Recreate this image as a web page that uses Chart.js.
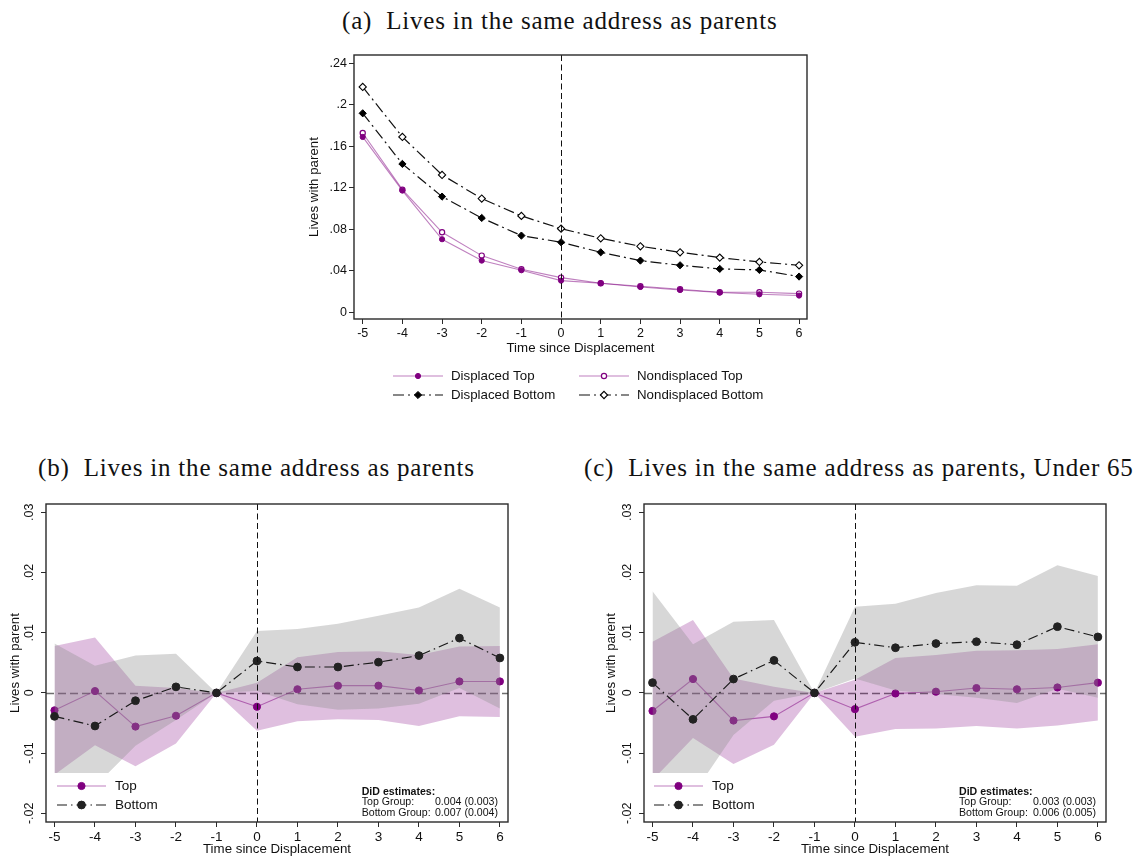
<!DOCTYPE html>
<html>
<head>
<meta charset="utf-8">
<script src="https://cdn.jsdelivr.net/npm/chart.js@4.4.1/dist/chart.umd.min.js"></script>
<style>
    body { margin: 0; background: #fff; width: 1133px; height: 859px; position: relative; overflow: hidden; }
    .ttl { position: absolute; font-family: "Liberation Serif", "Times New Roman", serif; font-size: 25px; line-height: 25px; color: #111; white-space: nowrap; letter-spacing: 0.8px; }
    canvas { position: absolute; }
</style>
</head>
<body>
<div class="ttl" style="left:342px;top:8px">(a)&nbsp; Lives in the same address as parents</div>
<div class="ttl" style="left:38px;top:455px">(b)&nbsp; Lives in the same address as parents</div>
<div class="ttl" style="left:584px;top:455px">(c)&nbsp; Lives in the same address as parents, Under 65</div>

<canvas id="chartA" width="580" height="370" style="left:280px;top:45px"></canvas>
<canvas id="chartB" width="560" height="370" style="left:0px;top:490px"></canvas>
<canvas id="chartC" width="563" height="370" style="left:570px;top:490px"></canvas>

<script>
const years = [-5, -4, -3, -2, -1, 0, 1, 2, 3, 4, 5, 6];

// (a) levels
const dispTop = [0.169, 0.1173, 0.0704, 0.0498, 0.0405, 0.0305, 0.028, 0.0244, 0.0215, 0.019, 0.0173, 0.0161];
const nondispTop = [0.1728, 0.1182, 0.0771, 0.0546, 0.0414, 0.0334, 0.028, 0.0251, 0.0222, 0.0193, 0.0193, 0.018];
const dispBottom = [0.1918, 0.143, 0.1115, 0.0909, 0.0739, 0.0675, 0.0578, 0.0498, 0.0453, 0.0418, 0.0408, 0.0344];
const nondispBottom = [0.2172, 0.169, 0.1324, 0.1096, 0.0929, 0.0806, 0.0713, 0.0636, 0.0578, 0.0527, 0.0485, 0.0453];
const yTicksA = [0, 0.04, 0.08, 0.12, 0.16, 0.2, 0.24];
const yLabelsA = ['0', '.04', '.08', '.12', '.16', '.2', '.24'];

// (b) event study, all ages
const topB = [-0.0029, 0.0003, -0.0056, -0.0038, 0, -0.0023, 0.0006, 0.0012, 0.0012, 0.0004, 0.0019, 0.0019];
const topHiB = [0.0078, 0.0092, 0.0012, 0.0008, 0, 0.0017, 0.0059, 0.0068, 0.0069, 0.0063, 0.0077, 0.0078];
const topLoB = [-0.0136, -0.0087, -0.0122, -0.0084, 0, -0.0063, -0.0047, -0.0044, -0.0045, -0.0055, -0.0039, -0.004];
const botB = [-0.0039, -0.0055, -0.0013, 0.001, 0, 0.0053, 0.0043, 0.0043, 0.0051, 0.0062, 0.0091, 0.0058];
const botHiB = [0.0082, 0.0045, 0.0062, 0.0065, 0, 0.0103, 0.0106, 0.0115, 0.0128, 0.0142, 0.0173, 0.0142];
const botLoB = [-0.016, -0.0155, -0.0088, -0.0045, 0, 0.0003, -0.0019, -0.0028, -0.0026, -0.0018, 0.0008, -0.0026];
const didB = ['0.004 (0.003)', '0.007 (0.004)'];

// (c) event study, under 65
const topC = [-0.003, 0.0023, -0.0046, -0.0039, 0, -0.0027, -0.0001, 0.0002, 0.0008, 0.0006, 0.0009, 0.0017];
const topHiC = [0.0085, 0.0121, 0.0024, 0.001, 0, 0.0022, 0.0058, 0.0063, 0.007, 0.0071, 0.0073, 0.0081];
const topLoC = [-0.0145, -0.0075, -0.0118, -0.0086, 0, -0.0073, -0.006, -0.0059, -0.0055, -0.0059, -0.0054, -0.0046];
const botC = [0.0017, -0.0044, 0.0023, 0.0054, 0, 0.0084, 0.0075, 0.0082, 0.0085, 0.008, 0.011, 0.0093];
const botHiC = [0.0169, 0.0081, 0.0118, 0.0121, 0, 0.0143, 0.0148, 0.0166, 0.0179, 0.0178, 0.0212, 0.0194];
const botLoC = [-0.0135, -0.0169, -0.007, -0.0013, 0, 0.0024, 0.0004, -0.0002, -0.0008, -0.0017, 0.0007, -0.0008];
const didC = ['0.003 (0.003)', '0.006 (0.005)'];

const yTicksBC = [-0.02, -0.01, 0, 0.01, 0.02, 0.03];
const yLabelsBC = ['-.02', '-.01', '0', '.01', '.02', '.03'];
const ciFloor = -0.0133;

const SANS = '"Liberation Sans", Arial, sans-serif';
const PURPLE = '#800080';
const PURPLE_LINE = 'rgba(128,0,128,0.5)';
const DASHDOT = [10, 4, 1.5, 4];

const pts = vals => years.map((x, i) => ({ x: x, y: vals[i] }));

// frame around the plot region, dashed reference lines, clipping of the CI bands
const plotFrame = {
    id: 'plotFrame',
    beforeDatasetsDraw(chart, args, opts) {
        const { ctx, chartArea: a, scales } = chart;
        if (opts.hline) {
            const y0 = Math.round(scales.y.getPixelForValue(0)) + 0.5;
            ctx.save();
            ctx.strokeStyle = '#6e6e6e';
            ctx.lineWidth = 1.3;
            ctx.setLineDash([8, 4]);
            ctx.beginPath(); ctx.moveTo(a.left, y0); ctx.lineTo(a.right, y0); ctx.stroke();
            ctx.restore();
        }
        if (opts.floor !== undefined) {
            const yf = scales.y.getPixelForValue(opts.floor);
            ctx.save();
            ctx.beginPath();
            ctx.rect(a.left, a.top, a.right - a.left, yf - a.top);
            ctx.clip();
        }
    },
    afterDatasetsDraw(chart, args, opts) {
        const { ctx, chartArea: a, scales } = chart;
        if (opts.floor !== undefined) ctx.restore();
        const x0 = Math.round(scales.x.getPixelForValue(0)) + 0.5;
        ctx.save();
        ctx.strokeStyle = '#111';
        ctx.lineWidth = 1;
        ctx.setLineDash([6, 3.5]);
        ctx.beginPath(); ctx.moveTo(x0, a.top); ctx.lineTo(x0, a.bottom); ctx.stroke();
        ctx.restore();
    },
    afterDraw(chart) {
        const { ctx, chartArea: a } = chart;
        ctx.save();
        ctx.strokeStyle = '#2a2a2a';
        ctx.lineWidth = 1.4;
        ctx.strokeRect(a.left, a.top, a.right - a.left, a.bottom - a.top);
        ctx.restore();
    }
};

// Stata style legend: line sample with the marker in the middle
const keyLegend = {
    id: 'keyLegend',
    afterDraw(chart, args, opts) {
        const ctx = chart.ctx;
        ctx.save();
        opts.items.forEach(it => {
            const ds = chart.data.datasets[it.ds];
            ctx.strokeStyle = ds.borderColor;
            ctx.lineWidth = ds.borderWidth;
            ctx.setLineDash(ds.borderDash || []);
            ctx.beginPath(); ctx.moveTo(it.x, it.y); ctx.lineTo(it.x + opts.len, it.y); ctx.stroke();
            ctx.setLineDash([]);
            ctx.fillStyle = ds.pointBackgroundColor;
            ctx.strokeStyle = ds.pointBorderColor;
            ctx.lineWidth = ds.pointBorderWidth;
            Chart.helpers.drawPoint(ctx, {
                pointStyle: ds.pointStyle, radius: ds.pointRadius, rotation: 0, borderWidth: ds.pointBorderWidth
            }, it.x + opts.len / 2, it.y);
            ctx.fillStyle = '#111';
            ctx.font = opts.size + 'px ' + SANS;
            ctx.textBaseline = 'middle';
            ctx.textAlign = 'left';
            ctx.fillText(it.label, it.x + opts.len + opts.gap, it.y);
        });
        ctx.restore();
    }
};

// DiD estimates note
const didNote = {
    id: 'didNote',
    afterDraw(chart, args, opts) {
        if (!opts.values) return;
        const ctx = chart.ctx;
        ctx.save();
        ctx.fillStyle = '#111';
        ctx.textBaseline = 'middle';
        ctx.font = 'bold 10.6px ' + SANS;
        ctx.textAlign = 'left';
        ctx.fillText('DiD estimates:', opts.x, opts.y);
        ctx.font = '10.6px ' + SANS;
        const rows = ['Top Group:', 'Bottom Group:'];
        rows.forEach((r, i) => {
            const y = opts.y + (i + 1) * 10.6;
            ctx.textAlign = 'left';
            ctx.fillText(r, opts.x, y);
            ctx.textAlign = 'right';
            ctx.fillText(opts.values[i], opts.xr, y);
        });
        ctx.restore();
    }
};

function xAxis(tickSize, titleSize, height, titlePad) {
    return {
        type: 'linear', min: -5.21, max: 6.2,
        afterBuildTicks: s => { s.ticks = years.map(v => ({ value: v })); },
        afterFit: s => { s.height = height; },
        ticks: { autoSkip: false, maxRotation: 0, padding: 2, color: '#111', font: { family: SANS, size: tickSize }, callback: v => String(v) },
        grid: { drawOnChartArea: false, drawTicks: true, tickLength: 5, color: '#2a2a2a' },
        border: { display: false },
        title: { display: true, text: 'Time since Displacement', color: '#111', font: { family: SANS, size: titleSize }, padding: { top: 0, bottom: titlePad } }
    };
}

function yAxis(min, max, ticks, labels, width, tickSize, titlePad, rotated) {
    return {
        min: min, max: max,
        afterBuildTicks: s => { s.ticks = ticks.map(v => ({ value: v })); },
        afterFit: s => { s.width = width; },
        ticks: Object.assign({
            autoSkip: false, color: '#111', font: { family: SANS, size: tickSize },
            callback: (v, i) => labels[i]
        }, rotated ? { minRotation: 90, maxRotation: 90, crossAlign: 'center', padding: 1 } : { padding: 2 }),
        grid: { drawOnChartArea: false, drawTicks: true, tickLength: 5, color: '#2a2a2a' },
        border: { display: false },
        title: { display: true, text: 'Lives with parent', color: '#111', font: { family: SANS, size: 13.3 }, padding: { top: titlePad, bottom: 0 } }
    };
}

const baseOptions = {
    responsive: false,
    animation: false,
    devicePixelRatio: 1,
    events: []
};

// (a)
new Chart(document.getElementById('chartA'), {
    type: 'line',
    data: {
        datasets: [
            { label: 'Displaced Top', data: pts(dispTop), borderColor: PURPLE_LINE, borderWidth: 1.1,
              pointStyle: 'circle', pointRadius: 2.6, pointBackgroundColor: PURPLE, pointBorderColor: PURPLE, pointBorderWidth: 1 },
            { label: 'Nondisplaced Top', data: pts(nondispTop), borderColor: PURPLE_LINE, borderWidth: 1.1,
              pointStyle: 'circle', pointRadius: 2.6, pointBackgroundColor: '#fff', pointBorderColor: PURPLE, pointBorderWidth: 1.2 },
            { label: 'Displaced Bottom', data: pts(dispBottom), borderColor: '#111', borderWidth: 1.2, borderDash: [11, 4, 2, 4],
              pointStyle: 'rectRot', pointRadius: 3.6, pointBackgroundColor: '#000', pointBorderColor: '#000', pointBorderWidth: 1 },
            { label: 'Nondisplaced Bottom', data: pts(nondispBottom), borderColor: '#111', borderWidth: 1.2, borderDash: [11, 4, 2, 4],
              pointStyle: 'rectRot', pointRadius: 3.6, pointBackgroundColor: '#fff', pointBorderColor: '#000', pointBorderWidth: 1.1 }
        ]
    },
    options: Object.assign({}, baseOptions, {
        layout: { padding: { left: 0, top: 10, right: 53, bottom: 56 } },
        scales: {
            x: Object.assign(xAxis(12.5, 13.3, 40, 3), { min: -5.22 }),
            y: yAxis(-0.0065, 0.248, yTicksA, yLabelsA, 74, 12.5, 26, false)
        },
        plugins: {
            legend: { display: false },
            tooltip: { enabled: false },
            plotFrame: {},
            keyLegend: {
                len: 50, gap: 8, size: 13.3,
                items: [
                    { ds: 0, label: 'Displaced Top', x: 113, y: 331 },
                    { ds: 1, label: 'Nondisplaced Top', x: 299, y: 331 },
                    { ds: 2, label: 'Displaced Bottom', x: 113, y: 350 },
                    { ds: 3, label: 'Nondisplaced Bottom', x: 299, y: 350 }
                ]
            },
            didNote: {}
        }
    }),
    plugins: [plotFrame, keyLegend, didNote]
});

function eventChart(id, top, topHi, topLo, bot, botHi, botLo, did, yWidth, yTitlePad, padRight, legendX, didX, didXr) {
    return new Chart(document.getElementById(id), {
        type: 'line',
        data: {
            datasets: [
                { label: 'Bottom', data: pts(bot), borderColor: '#1a1a1a', borderWidth: 1.2, borderDash: DASHDOT,
                  pointStyle: 'circle', pointRadius: 3.9, pointBackgroundColor: '#222', pointBorderColor: '#222', pointBorderWidth: 1 },
                { label: 'Bottom upper', data: pts(botHi), borderColor: 'transparent', borderWidth: 0, pointRadius: 0, fill: false },
                { label: 'Bottom lower', data: pts(botLo), borderColor: 'transparent', borderWidth: 0, pointRadius: 0,
                  fill: '-1', backgroundColor: 'rgba(140,140,140,0.35)' },
                { label: 'Top', data: pts(top), borderColor: PURPLE_LINE, borderWidth: 1.1,
                  pointStyle: 'circle', pointRadius: 3.6, pointBackgroundColor: PURPLE, pointBorderColor: PURPLE, pointBorderWidth: 1 },
                { label: 'Top upper', data: pts(topHi), borderColor: 'transparent', borderWidth: 0, pointRadius: 0, fill: false },
                { label: 'Top lower', data: pts(topLo), borderColor: 'transparent', borderWidth: 0, pointRadius: 0,
                  fill: '-1', backgroundColor: 'rgba(128,0,128,0.25)' }
            ]
        },
        options: Object.assign({}, baseOptions, {
            layout: { padding: { left: 0, top: 14, right: padRight, bottom: 0 } },
            scales: {
                x: xAxis(13.5, 13.3, 38, 3),
                y: yAxis(-0.02145, 0.03138, yTicksBC, yLabelsBC, yWidth, 12.5, yTitlePad, true)
            },
            plugins: {
                legend: { display: false },
                tooltip: { enabled: false },
                plotFrame: { hline: true, floor: ciFloor },
                keyLegend: {
                    len: 49, gap: 9, size: 13.5,
                    items: [
                        { ds: 3, label: 'Top', x: legendX, y: 296 },
                        { ds: 0, label: 'Bottom', x: legendX, y: 315 }
                    ]
                },
                didNote: { values: did, x: didX, xr: didXr, y: 301.7 }
            }
        }),
        plugins: [plotFrame, keyLegend, didNote]
    });
}

eventChart('chartB', topB, topHiB, topLoB, botB, botHiB, botLoB, didB, 46, 7.6, 52, 57, 361.7, 498);
eventChart('chartC', topC, topHiC, topLoC, botC, botHiC, botLoC, didC, 74, 33.6, 27, 84, 389, 526);
</script>
</body>
</html>
